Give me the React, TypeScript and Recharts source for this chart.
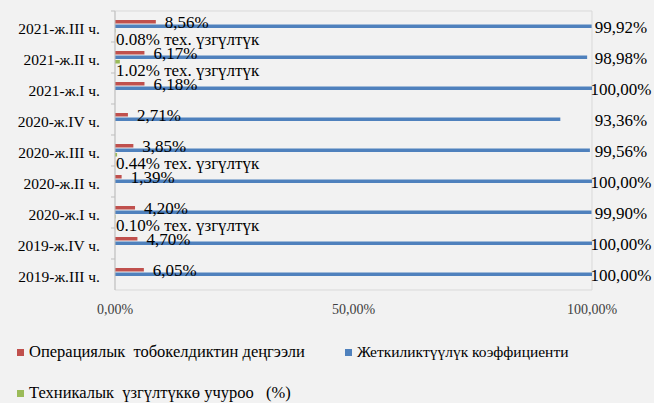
import { Bar, BarChart, CartesianGrid, LabelList, XAxis, YAxis } from "recharts";

const periods = [
  "2019-ж.III ч.",
  "2019-ж.IV ч.",
  "2020-ж.I ч.",
  "2020-ж.II ч.",
  "2020-ж.III ч.",
  "2020-ж.IV ч.",
  "2021-ж.I ч.",
  "2021-ж.II ч.",
  "2021-ж.III ч.",
];
const riskLevel = [6.05, 4.7, 4.2, 1.39, 3.85, 2.71, 6.18, 6.17, 8.56];
const availability = [100, 100, 99.9, 100, 99.56, 93.36, 100, 98.98, 99.92];
const techFailure = [null, null, 0.1, null, 0.44, null, null, 1.02, 0.08];
const xTicks = [0, 50, 100];

const series = [
  { key: "risk", name: "Операциялык  тобокелдиктин деңгээли", color: "#c0504d" },
  { key: "availability", name: "Жеткиликтүүлүк коэффициенти", color: "#4f81bd" },
  { key: "failure", name: "Техникалык  үзгүлтүккө учуроо   (%)", color: "#9bbb59" },
];

const data = periods.map((period, i) => ({
  period,
  risk: riskLevel[i],
  availability: availability[i],
  failure: techFailure[i],
}));

const W = 654;
const H = 403;
const MARGIN = { top: 11, right: 62, bottom: 73, left: 0 };
const Y_AXIS_W = 115;
const X_AXIS_H = 40;
const PLOT_RIGHT = W - MARGIN.right;
const BAND = (H - MARGIN.top - MARGIN.bottom - X_AXIS_H) / periods.length;
const FONT = "'Liberation Serif', 'Times New Roman', serif";

const pct = (v: number) => v.toFixed(2).replace(".", ",") + "%";

function CategoryTick({ x, y, payload }: any) {
  return (
    <g>
      <line x1={x - 4} x2={x} y1={y - BAND / 2} y2={y - BAND / 2} stroke="#bfbfbf" />
      <text x={x - 15} y={y + 2} textAnchor="end" dominantBaseline="central" fontSize={15.5} fontFamily={FONT} fill="#000">
        {payload.value}
      </text>
    </g>
  );
}

function RiskLabel({ x, y, width, height, value }: any) {
  return (
    <text x={x + width + 9} y={y + height / 2 + 1} dominantBaseline="central" fontSize={17} fontFamily={FONT} fill="#000">
      {pct(value)}
    </text>
  );
}

function AvailabilityLabel({ y, height, value }: any) {
  return (
    <text x={PLOT_RIGHT + 29} y={y + height / 2 + 1} textAnchor="middle" dominantBaseline="central" fontSize={17} fontFamily={FONT} fill="#000">
      {pct(value)}
    </text>
  );
}

function FailureLabel({ x, y, height, value }: any) {
  if (value == null) return null;
  return (
    <text x={x + 1} y={y + height / 2 + 9} dominantBaseline="central" fontSize={17} fontFamily={FONT} fill="#000">
      {value.toFixed(2)}% тех. үзгүлтүк
    </text>
  );
}

export default function App() {
  return (
    <div style={{ position: "absolute", left: 0, top: 0, width: W, height: H, background: "#f2f2f2", fontFamily: FONT }}>
      <BarChart width={W} height={H} data={data} layout="vertical" margin={MARGIN} barGap={1}>
        <CartesianGrid
          stroke="#d9d9d9"
          horizontalCoordinatesGenerator={({ offset }: any) => [offset.top, offset.top + offset.height]}
          verticalCoordinatesGenerator={({ offset }: any) => [offset.left, offset.left + offset.width]}
        />
        <XAxis
          type="number"
          domain={[0, 100]}
          ticks={xTicks}
          interval={0}
          height={X_AXIS_H}
          axisLine={false}
          tickLine={false}
          tickMargin={8}
          tickFormatter={pct}
          tick={{ fontSize: 14, fill: "#404040", fontFamily: FONT }}
        />
        <YAxis
          type="category"
          dataKey="period"
          reversed
          width={Y_AXIS_W}
          interval={0}
          axisLine={{ stroke: "#bfbfbf" }}
          tickLine={false}
          tickSize={0}
          tickMargin={0}
          tick={<CategoryTick />}
        />
        <Bar dataKey="risk" fill="#c0504d" barSize={3.5} isAnimationActive={false}>
          <LabelList dataKey="risk" content={<RiskLabel />} />
        </Bar>
        <Bar dataKey="availability" fill="#4f81bd" barSize={3.5} isAnimationActive={false}>
          <LabelList dataKey="availability" content={<AvailabilityLabel />} />
        </Bar>
        <Bar dataKey="failure" fill="#9bbb59" barSize={3.5} isAnimationActive={false}>
          <LabelList dataKey="failure" content={<FailureLabel />} />
        </Bar>
      </BarChart>
      {series.map((s, i) => (
        <div
          key={s.key}
          style={{
            position: "absolute",
            left: i === 1 ? 345 : 17,
            top: i === 2 ? 383 : 342,
            height: 20,
            display: "flex",
            alignItems: "center",
            fontSize: i === 1 ? 15.5 : 16.5,
            color: "#000",
            whiteSpace: "pre",
          }}
        >
          <span style={{ width: 7, height: 7, background: s.color, marginRight: 5, display: "inline-block" }} />
          {s.name}
        </div>
      ))}
    </div>
  );
}
